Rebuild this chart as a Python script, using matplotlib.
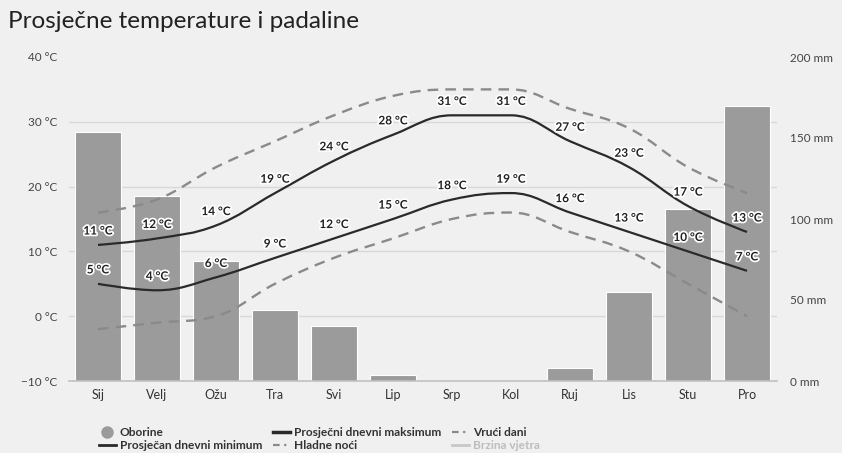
import matplotlib
matplotlib.use("Agg")
import matplotlib.pyplot as plt
from matplotlib.path import Path
from matplotlib.patches import PathPatch
from matplotlib.lines import Line2D
import matplotlib.patheffects as pe
import numpy as np

plt.rcParams['font.family'] = ['Lato', 'DejaVu Sans']

months = ["Sij", "Velj", "Ožu", "Tra", "Svi", "Lip", "Srp", "Kol", "Ruj", "Lis", "Stu", "Pro"]
precip_mm = [154, 114, 74, 44, 34, 4, 0.4, 0.4, 8, 55, 106, 170]
temp_max = [11, 12, 14, 19, 24, 28, 31, 31, 27, 23, 17, 13]
temp_min = [5, 4, 6, 9, 12, 15, 18, 19, 16, 13, 10, 7]
hot_days = [16, 18, 23, 27, 31, 34, 35, 35, 32, 29, 23, 19]
cold_nights = [-2, -1, 0, 5, 9, 12, 15, 16, 13, 10, 5, 0]

temp_ticks = [-10, 0, 10, 20, 30, 40]
temp_tick_labels = ["−10 °C", "0 °C", "10 °C", "20 °C", "30 °C", "40 °C"]
mm_ticks = [0, 50, 100, 150, 200]
mm_tick_labels = ["0 mm", "50 mm", "100 mm", "150 mm", "200 mm"]

title = "Prosječne temperature i padaline"
legend_labels = ["Oborine", "Prosječan dnevni minimum", "Prosječni dnevni maksimum",
                 "Hladne noći", "Vrući dani", "Brzina vjetra"]

BG = "#f0f0f0"
DARK = "#2a2a2a"
DASH = "#8a8a8a"
BAR = "#9b9b9b"


def hc_spline_path(xs, ys, smoothing=1.5):
    verts = [(xs[0], ys[0])]
    codes = [Path.MOVETO]
    prev_right = (xs[0], ys[0])
    n = len(xs)
    for i in range(1, n):
        x, y = xs[i], ys[i]
        if i < n - 1:
            lx, ly = xs[i - 1], ys[i - 1]
            nx, ny = xs[i + 1], ys[i + 1]
            d = smoothing + 1
            lcx = (smoothing * x + lx) / d
            lcy = (smoothing * y + ly) / d
            rcx = (smoothing * x + nx) / d
            rcy = (smoothing * y + ny) / d
            if rcx != lcx:
                corr = ((rcy - lcy) * (rcx - x)) / (rcx - lcx) + y - rcy
                lcy += corr
                rcy += corr
            if lcy > ly and lcy > y:
                lcy = max(ly, y); rcy = 2 * y - lcy
            elif lcy < ly and lcy < y:
                lcy = min(ly, y); rcy = 2 * y - lcy
            if rcy > ny and rcy > y:
                rcy = max(ny, y); lcy = 2 * y - rcy
            elif rcy < ny and rcy < y:
                rcy = min(ny, y); lcy = 2 * y - rcy
        else:
            lcx, lcy, rcx, rcy = x, y, x, y
        verts += [prev_right, (lcx, lcy), (x, y)]
        codes += [Path.CURVE4] * 3
        prev_right = (rcx, rcy)
    return Path(verts, codes)


fig = plt.figure(figsize=(8.42, 4.53), dpi=100, facecolor=BG)
ax = fig.add_axes([68.5 / 842, 1 - 381 / 453, (776.5 - 68.5) / 842, (381 - 57) / 453])
ax.set_facecolor(BG)
x = np.arange(len(months))

# precipitation bars (mm axis)
ax.bar(x, precip_mm, width=0.78, color=BAR, edgecolor="white", linewidth=0.8, zorder=2)
ax.set_ylim(0, 200)
ax.set_xlim(-0.5, len(months) - 0.5)
ax.set_xticks(x)
ax.set_xticklabels(months)
ax.tick_params(axis="x", length=0, labelsize=9, labelcolor="#333", pad=6)
for s in ["top", "left", "right"]:
    ax.spines[s].set_visible(False)
ax.spines["bottom"].set_color("#c0c0c0")
ax.spines["bottom"].set_linewidth(1.2)
ax.set_axisbelow(True)

# temperature axis
axt = ax.twinx()
axt.set_ylim(-10, 40)
axt.set_xlim(-0.5, len(months) - 0.5)
for s in axt.spines.values():
    s.set_visible(False)

# mm axis on the right, temperature axis on the left
ax.yaxis.tick_right()
ax.yaxis.set_label_position("right")
ax.set_yticks(mm_ticks)
ax.set_yticklabels(mm_tick_labels)
ax.set_yticks([(t + 10) * 4 for t in temp_ticks], minor=True)
ax.yaxis.grid(True, which="minor", color="#d8d8d8", linewidth=1, zorder=0)
ax.yaxis.grid(False, which="major")
ax.tick_params(axis="y", which="both", length=0, labelsize=8.5, labelcolor="#444",
               pad=10, left=False, labelleft=False, right=True, labelright=True)

axt.yaxis.tick_left()
axt.set_yticks(temp_ticks)
axt.set_yticklabels(temp_tick_labels)
axt.tick_params(axis="y", length=0, labelsize=8.5, labelcolor="#444", pad=8,
                left=True, labelleft=True, right=False, labelright=False)

series = [
    (hot_days, DASH, 1.7, (0, (4.5, 3))),
    (cold_nights, DASH, 1.7, (0, (4.5, 3))),
    (temp_max, DARK, 1.6, "solid"),
    (temp_min, DARK, 1.6, "solid"),
]
for vals, col, lw, ls in series:
    p = hc_spline_path(list(x.astype(float)), list(map(float, vals)))
    axt.add_patch(PathPatch(p, facecolor="none", edgecolor=col, linewidth=lw,
                            linestyle=ls, capstyle="butt", zorder=3))

stroke = [pe.withStroke(linewidth=2.5, foreground="white")]
for vals in (temp_max, temp_min):
    for xi, v in zip(x, vals):
        axt.annotate(f"{v} °C", (xi, v), xytext=(0, 10), textcoords="offset points",
                     ha="center", va="center", fontsize=8.5, fontweight="bold",
                     color="#222", path_effects=stroke, zorder=5)

fig.text(8 / 842, 1 - 22 / 453, title, fontsize=17.5, color="#222", ha="left", va="center")

handles = [
    Line2D([], [], marker="o", linestyle="none", markersize=8, color="#9b9b9b"),
    Line2D([], [], color=DARK, linewidth=2),
    Line2D([], [], color=DARK, linewidth=2.5),
    Line2D([], [], color=DASH, linewidth=1.6, linestyle=(0, (3, 2, 1, 2))),
    Line2D([], [], color=DASH, linewidth=1.6, linestyle=(0, (3, 2, 1, 2))),
    Line2D([], [], color="#c8c8c8", linewidth=2),
]
leg = fig.legend(handles, legend_labels, ncol=3, loc="upper left",
                 bbox_to_anchor=(99 / 842, 1 - 427 / 453), frameon=False,
                 prop={"size": 8.6, "weight": "bold"}, handlelength=1.4,
                 handletextpad=0.35, columnspacing=0.9, labelspacing=0.2,
                 borderpad=0, borderaxespad=0)
for t in leg.get_texts():
    t.set_color("#333")
leg.get_texts()[-1].set_color("#bdbdbd")

fig.savefig("out.png", dpi=100, facecolor=BG)
